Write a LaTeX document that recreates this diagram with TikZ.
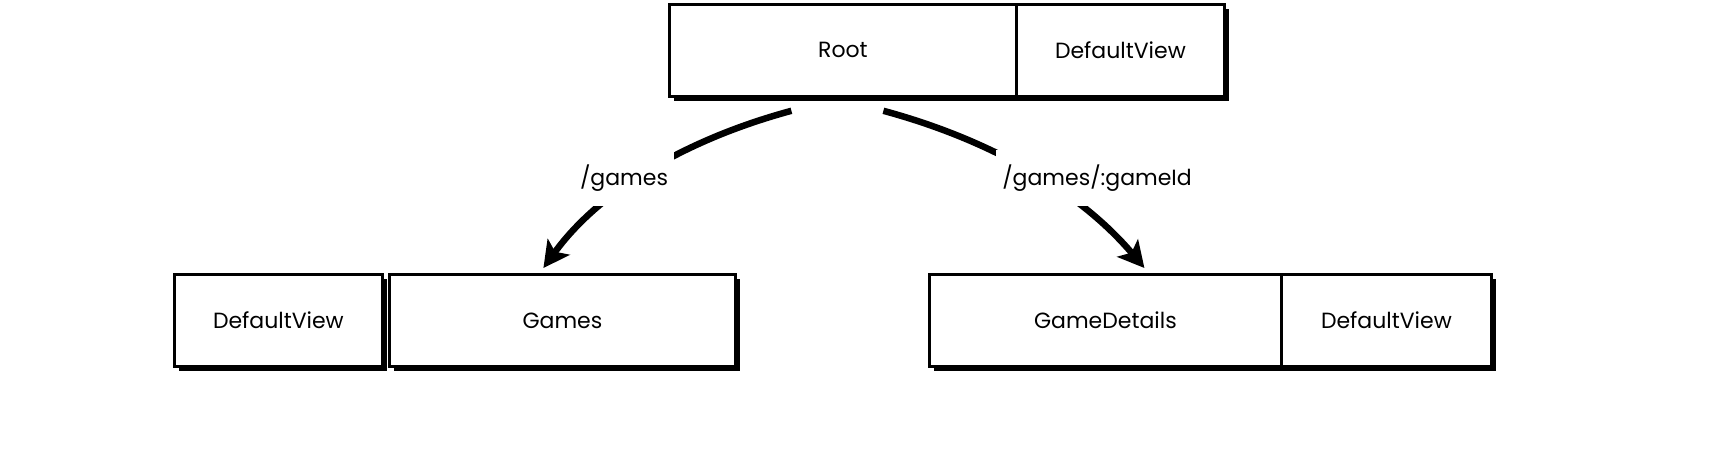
\documentclass[tikz,border=0pt]{standalone}
\usepackage{fontspec}
\setmainfont{Poppins}
\usetikzlibrary{shadows,arrows.meta}
\begin{document}
\begin{tikzpicture}[x=1pt,y=-1pt,
  box/.style={draw, fill=white, line width=2.8pt, anchor=north west, inner sep=0pt,
    minimum height=92pt, font=\fontsize{22}{26}\selectfont,
    drop shadow={fill=black, opacity=1, shadow xshift=5pt, shadow yshift=-5pt}},
  lbl/.style={fill=white, inner xsep=6pt, inner ysep=15pt, font=\fontsize{22}{26}\selectfont},
  link/.style={line width=6.5pt, -{Stealth[length=26pt,width=27pt,inset=6pt]}}]
\useasboundingbox (0,0) rectangle (1712,468);
\fill[white] (0,0) rectangle (1712,468);
\node[box, minimum width=347pt] (root) at (668,3) {Root};
\node[box, minimum width=208pt] (rootdv) at (1015,3) {DefaultView};
\node[box, minimum width=208pt] (ldv) at (173,273) {DefaultView};
\node[box, minimum width=346pt] (games) at (388,273) {Games};
\node[box, minimum width=352pt] (details) at (928,273) {GameDetails};
\node[box, minimum width=210pt] (rdv) at (1280,273) {DefaultView};
\draw[link] ([xshift=-51.5pt,yshift=-13pt]root.south) .. controls (680,141) and (597,194) .. ([xshift=-19pt,yshift=5pt]games.north);
\draw[link] ([xshift=40.5pt,yshift=-13pt]root.south) .. controls (995,141) and (1082,194) .. ([xshift=39pt,yshift=5pt]details.north);
\node[lbl] (l1) at (624,178) {/games};
\node[lbl] (l2) at (1097,178) {/games/:gameId};
\end{tikzpicture}
\end{document}
